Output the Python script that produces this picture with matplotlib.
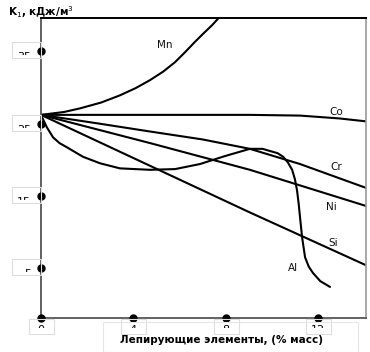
import numpy as np
import matplotlib.pyplot as plt
from matplotlib.transforms import Bbox, offset_copy
from matplotlib.patches import Rectangle

plt.rcParams['font.family'] = ['DejaVu Sans']

# K1 vs alloying element content
mn_x = [0, 1.0, 1.69, 2.6, 3.42, 4.1, 4.72, 5.3, 5.81, 6.25, 6.67, 7.05, 7.41, 7.84]
mn_y = [26.2, 26.6, 27.1, 27.9, 28.9, 29.9, 31.0, 32.2, 33.5, 34.9, 36.3, 37.5, 38.6, 40.1]

co_x = [0, 4.72, 9.05, 11.22, 12.95, 14.08]
co_y = [26.2, 26.2, 26.2, 26.1, 25.7, 25.3]

cr_x = [0, 2.5, 4.72, 7.0, 9.05, 11.22, 14.08]
cr_y = [26.2, 25.0, 23.9, 22.8, 21.5, 19.4, 16.1]

ni_x = [0, 4.72, 9.05, 14.08]
ni_y = [26.2, 22.3, 18.6, 13.6]

si_x = [0, 9.05, 14.08]
si_y = [26.2, 12.7, 5.4]

al_x = [0, 0.25, 0.52, 0.8, 1.13, 1.82, 2.56, 3.42, 4.72, 5.81, 6.89, 7.97, 9.05,
        9.6, 9.92, 10.25, 10.49, 10.7, 10.88, 11.0, 11.09, 11.16, 11.22, 11.31,
        11.44, 11.6, 11.79, 12.1, 12.52]
al_y = [26.2, 24.5, 23.1, 22.3, 21.7, 20.4, 19.5, 18.8, 18.6, 18.7, 19.4, 20.5, 21.5,
        21.5, 21.2, 20.9, 20.4, 19.6, 18.6, 17.3, 15.8, 14.0, 12.1, 9.3,
        6.5, 5.2, 4.3, 3.2, 2.4]

curves = [(mn_x, mn_y), (co_x, co_y), (cr_x, cr_y), (ni_x, ni_y), (si_x, si_y), (al_x, al_y)]
names = ['Mn', 'Co', 'Cr', 'Ni', 'Si', 'Al']
name_x = [5.37, 12.78, 12.78, 12.6, 12.65, 10.92]
name_y = [35.8, 26.6, 19.0, 13.4, 8.5, 5.0]

x_ticks = [0, 4, 8, 12]
y_ticks = [5, 15, 25, 35]

W, H = 370, 352
fig = plt.figure(figsize=(W / 100, H / 100), dpi=100)
ax = fig.add_axes([41 / W, 1 - 318 / H, 325 / W, 300 / H])
ax.set_xlim(0, 14.08)
ax.set_ylim(-1.9, 39.6)

for (cx, cy) in curves:
    ax.plot(cx, cy, color='black', lw=1.5, solid_capstyle='round')

for n, tx, ty in zip(names, name_x, name_y):
    ax.text(tx, ty, n, fontsize=7.5, ha='center', va='center', color='#111111')

ax.set_xticks([])
ax.set_yticks([])
ax.spines['left'].set_color('#555555')
ax.spines['left'].set_linewidth(1.3)
ax.spines['bottom'].set_color('#555555')
ax.spines['bottom'].set_linewidth(1.3)
ax.spines['top'].set_color('black')
ax.spines['top'].set_linewidth(1.4)
ax.spines['right'].set_color('#999999')
ax.spines['right'].set_linewidth(1.2)

# tick dots on the axes
ax.plot(np.zeros(len(y_ticks)), y_ticks, 'o', color='black', ms=5, clip_on=False, zorder=5)
ax.plot(x_ticks, np.zeros(len(x_ticks)), 'o', color='black', ms=5, clip_on=False,
        zorder=5, transform=ax.get_xaxis_transform())

# tick labels, cut off by their boxes as in the original
for v in y_ticks:
    px, py = ax.transData.transform((0, v))
    fig.patches.append(Rectangle((px - 29, py - 7), 29, 16, transform=None,
                                 fill=False, ec='#dddddd', lw=0.8))
    t = ax.text(0, v, str(v), fontsize=8, ha='right', va='top',
                transform=offset_copy(ax.get_yaxis_transform(), fig, x=-10, y=-1, units='dots'))
    t.set_clip_box(Bbox.from_extents(px - 40, py - 4, px, py + 9))
    t.set_clip_on(True)

for v in x_ticks:
    px, py = ax.transData.transform((v, -1.9))
    fig.patches.append(Rectangle((px - 12, py - 16), 25, 15, transform=None,
                                 fill=False, ec='#dddddd', lw=0.8))
    t = ax.text(v, 0, str(v), fontsize=8, ha='center', va='top',
                transform=offset_copy(ax.get_xaxis_transform(), fig, x=0, y=-7, units='dots'))
    t.set_clip_box(Bbox.from_extents(px - 20, py - 10, px + 20, py - 7))
    t.set_clip_on(True)

fig.patches.append(Rectangle((103 / W, 0), 255 / W, 30 / H, transform=fig.transFigure,
                             fill=False, ec='#e6e6e6', lw=0.8))
fig.text(221 / W, 12 / H, 'Лепирующие элементы, (% масс)', fontsize=7.5,
         fontweight='bold', ha='center', va='center')
fig.text(8 / W, 1 - 12 / H, 'K$_1$, кДж/м$^3$', fontsize=7.5, fontweight='bold',
         ha='left', va='center')

fig.savefig('out.png', dpi=100)
